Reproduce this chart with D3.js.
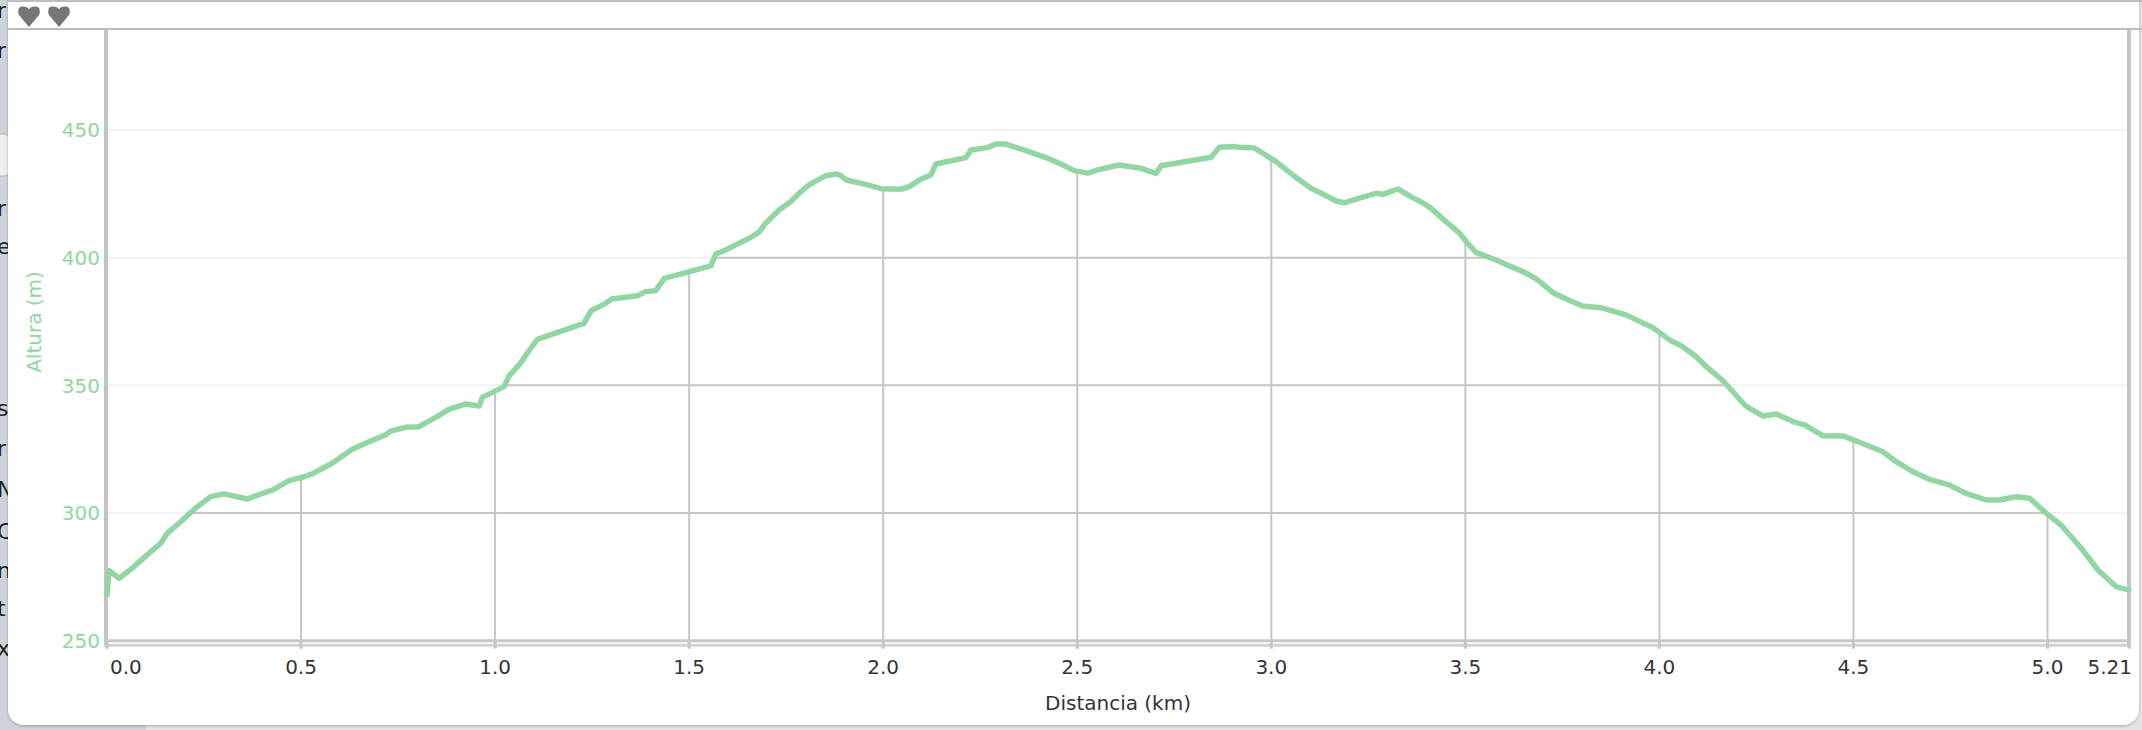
<!DOCTYPE html>
<html>
<head>
<meta charset="utf-8">
<script src="https://cdn.jsdelivr.net/npm/d3@7"></script>
<style>
html,body{margin:0;padding:0;background:#d3d9de;overflow:hidden;}
svg{display:block;font-family:"DejaVu Sans",Verdana,sans-serif;}
</style>
</head>
<body>
<svg id="chart" width="2142" height="730"></svg>
<script>
// ---- data ----
const distanceKm = [0.000,0.005,0.031,0.065,0.108,0.138,0.155,0.190,0.228,0.267,0.301,0.362,0.400,0.426,0.469,0.503,0.529,0.580,0.632,0.675,0.718,0.731,0.770,0.804,0.847,0.881,0.924,0.959,0.967,1.023,1.036,1.062,1.083,1.109,1.229,1.247,1.285,1.300,1.367,1.388,1.414,1.436,1.556,1.569,1.590,1.620,1.655,1.680,1.697,1.732,1.762,1.788,1.809,1.852,1.878,1.891,1.905,1.955,1.994,2.045,2.067,2.097,2.123,2.136,2.213,2.226,2.269,2.290,2.316,2.368,2.419,2.458,2.492,2.527,2.553,2.608,2.664,2.703,2.716,2.845,2.866,2.901,2.926,2.956,2.978,3.012,3.055,3.102,3.132,3.167,3.188,3.227,3.270,3.287,3.326,3.364,3.390,3.411,3.450,3.485,3.506,3.528,3.579,3.657,3.683,3.726,3.761,3.802,3.849,3.914,3.983,4.026,4.060,4.095,4.121,4.164,4.220,4.232,4.267,4.301,4.344,4.374,4.421,4.473,4.515,4.576,4.610,4.653,4.696,4.747,4.790,4.842,4.876,4.919,4.954,4.997,5.035,5.087,5.130,5.177,5.203,5.210];
const altitudeM = [268,277.5,274.4,278.4,284.2,288.1,292,296.6,301.9,306.4,307.5,305.5,307.7,309,312.7,314,315.3,319.5,325,327.9,330.6,332.1,333.6,333.8,337.5,340.6,342.7,341.9,345.3,349.5,353.7,358,362.6,368,374.3,379.2,382.1,383.8,385.1,386.7,387.1,391.9,396.8,401.5,402.7,405,407.6,410,413.5,418.7,422,425.9,428.5,432.1,432.8,432.1,430.4,428.7,427,426.8,427.8,430.7,432.4,436.7,439.2,442.2,443.1,444.5,444.5,441.9,439.2,436.7,434.1,433.1,434.4,436.3,435,433,436,439.3,443.2,443.5,443.1,443,440.9,437.6,432.4,427.2,425,422.2,421.5,423.3,425.2,424.8,426.9,423.5,421.5,419.4,414.1,409.6,405.6,402,399.1,393.9,391.7,386.3,383.7,381.1,380.4,377.6,372.6,367.8,365.1,361.2,357.3,351.8,342.3,341,338,338.8,335.8,334.5,330.3,330.2,327.7,324,320.1,316.2,313.2,311,307.7,305.1,305.1,306.4,305.8,299.9,295.3,286.2,277.7,271.1,270.1,270];
const xTicks = [0,0.5,1.0,1.5,2.0,2.5,3.0,3.5,4.0,4.5,5.0,5.21];
const xTickLabels = ["0.0","0.5","1.0","1.5","2.0","2.5","3.0","3.5","4.0","4.5","5.0","5.21"];
const yTicks = [250,300,350,400,450];
const xTitle = "Distancia (km)";
const yTitle = "Altura (m)";
const sideLetters = [["r",18],["r",58],["r",216],["e",254],["s",416],["r",456],["N",497],["C",539],["n",578],["t",616],["x",656]];

(function(){
const data = distanceKm.map((d,i)=>({d:d,a:altitudeM[i]}));

const svg = d3.select("#chart");
const W = 2142, H = 730;
const pl = 107, pr = 2129, pt = 30;
const x = d3.scaleLinear().domain([0,5.21]).range([pl,pr]);
const y = d3.scaleLinear().domain([250,450]).range([640.7,130]);
const pb = y(250);

// background page fragments
svg.append("rect").attr("x",0).attr("y",0).attr("width",W).attr("height",H).attr("fill","#e4e4e4");
svg.append("rect").attr("x",0).attr("y",0).attr("width",146).attr("height",H).attr("fill","#cdd3d8");
svg.append("g").selectAll("text").data(sideLetters).join("text")
  .attr("x",-3).attr("y",d=>d[1]).attr("font-size",22).attr("fill","#222").text(d=>d[0]);
svg.append("rect").attr("x",-10).attr("y",134).attr("width",20).attr("height",42).attr("rx",6)
  .attr("fill","#ededed").attr("stroke","#b9b9b9");

// card
const defs = svg.append("defs");
const f = defs.append("filter").attr("id","sh").attr("x","-5%").attr("y","-5%").attr("width","110%").attr("height","110%");
f.append("feDropShadow").attr("dx",0).attr("dy",1).attr("stdDeviation",1.5).attr("flood-color","#000").attr("flood-opacity",0.25);
svg.append("rect").attr("x",8).attr("y",-20).attr("width",2131).attr("height",745).attr("rx",16)
  .attr("fill","#fff").attr("filter","url(#sh)");
svg.append("line").attr("x1",8).attr("x2",W).attr("y1",1).attr("y2",1).attr("stroke","#bdbdbd").attr("stroke-width",2);
svg.append("line").attr("x1",8).attr("x2",W).attr("y1",29).attr("y2",29).attr("stroke","#bdbdbd").attr("stroke-width",2);

// header icons
const heart = "M1,2 C3,0 8,0 11,3 C14,0 19,0 21,2 C22,4 22,8 21,9 L11,21 L1,9 C0,8 0,4 1,2 Z";
[18,48].forEach(px=>{
  svg.append("path").attr("d",heart).attr("transform",`translate(${px},6)`).attr("fill","#777");
});

// light gridlines (full width)
svg.append("g").selectAll("line").data(yTicks.slice(1)).join("line")
  .attr("x1",pl).attr("x2",pr).attr("y1",d=>y(d)).attr("y2",d=>y(d))
  .attr("stroke","#f1f1f1").attr("stroke-width",2);

// clip region under curve
const area = d3.area().x(d=>x(d.d)).y0(pb).y1(d=>y(d.a));
defs.append("clipPath").attr("id","under").append("path").datum(data).attr("d",area);
const g2 = svg.append("g").attr("clip-path","url(#under)");
g2.selectAll("line.h").data(yTicks.slice(1)).join("line").attr("class","h")
  .attr("x1",pl).attr("x2",pr).attr("y1",d=>y(d)).attr("y2",d=>y(d))
  .attr("stroke","#c6c6c6").attr("stroke-width",2);
g2.selectAll("line.v").data(xTicks.slice(1,-1)).join("line").attr("class","v")
  .attr("x1",d=>x(d)).attr("x2",d=>x(d)).attr("y1",pt).attr("y2",pb)
  .attr("stroke","#c6c6c6").attr("stroke-width",2);

// axes lines
svg.append("line").attr("x1",pl-1).attr("x2",pl-1).attr("y1",pt).attr("y2",pb+5).attr("stroke","#c4c4c4").attr("stroke-width",4);
svg.append("line").attr("x1",pr).attr("x2",pr).attr("y1",pt).attr("y2",pb+5).attr("stroke","#c4c4c4").attr("stroke-width",4);
svg.append("line").attr("x1",pl-3).attr("x2",pr+2).attr("y1",pb).attr("y2",pb).attr("stroke","#c8c8c8").attr("stroke-width",3);
svg.append("line").attr("x1",pl-3).attr("x2",pr+2).attr("y1",pb+4.5).attr("y2",pb+4.5).attr("stroke","#d2d2d2").attr("stroke-width",3);
svg.append("g").selectAll("line").data(xTicks).join("line")
  .attr("x1",d=>x(d)).attr("x2",d=>x(d)).attr("y1",pb).attr("y2",pb+8)
  .attr("stroke","#c6c6c6").attr("stroke-width",3);

// profile line
svg.append("path").datum(data)
  .attr("d",d3.line().x(d=>x(d.d)).y(d=>y(d.a)))
  .attr("fill","none").attr("stroke","#92d6a4").attr("stroke-width",5.5)
  .attr("stroke-linejoin","round").attr("stroke-linecap","round");

// y tick labels
svg.append("g").selectAll("text").data(yTicks).join("text")
  .attr("x",100).attr("y",d=>y(d)).attr("dy","0.36em").attr("text-anchor","end")
  .attr("font-size",20).attr("fill","#8fd6a0").text(d=>d);
svg.append("text").attr("transform","translate(41,322) rotate(-90)").attr("text-anchor","middle")
  .attr("font-size",20).attr("fill","#8fd6a0").text(yTitle);

// x tick labels
svg.append("g").selectAll("text").data(xTicks).join("text")
  .attr("x",(d,i)=> i===0 ? 110 : (i===xTicks.length-1 ? 2132 : x(d)))
  .attr("y",674)
  .attr("text-anchor",(d,i)=> i===0 ? "start" : (i===xTicks.length-1 ? "end" : "middle"))
  .attr("font-size",20).attr("fill","#333").text((d,i)=>xTickLabels[i]);
svg.append("text").attr("x",(pl+pr)/2).attr("y",710).attr("text-anchor","middle")
  .attr("font-size",20).attr("fill","#333").text(xTitle);
})();
</script>
</body>
</html>
